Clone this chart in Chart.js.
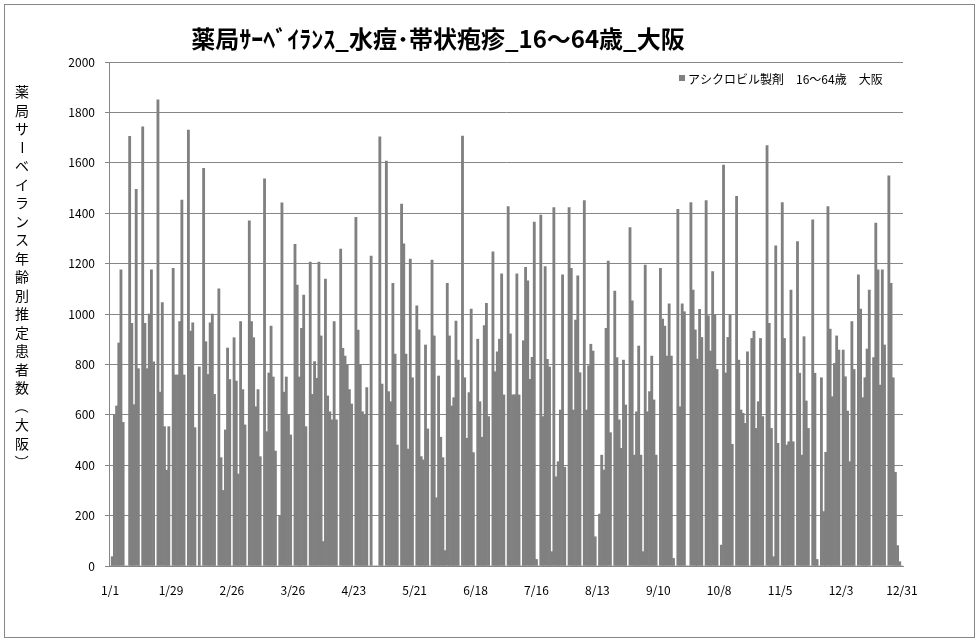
<!DOCTYPE html>
<html>
<head>
<meta charset="utf-8">
<script src="https://cdn.jsdelivr.net/npm/chart.js@4.4.1/dist/chart.umd.min.js"></script>
<style>
html,body{margin:0;padding:0;background:#fff;}
canvas{display:block;}
</style>
</head>
<body>
<canvas id="c" width="979" height="643"></canvas>
<script>
const titleText = '薬局ｻｰﾍﾞｲﾗﾝｽ_水痘･帯状疱疹_16～64歳_大阪';
const yTitleText = '薬局サーベイランス年齢別推定患者数（大阪）';
const seriesName = 'アシクロビル製剤　16～64歳　大阪';
const tickLabels = ['1/1','1/29','2/26','3/26','4/23','5/21','6/18','7/16','8/13','9/10','10/8','11/5','12/3','12/31'];
const yMin = 0, yMax = 2000, yStep = 200;

// daily categories for 2017 (1/1 .. 12/31)
const categories = [];
(function(){
  const d = new Date(2017, 0, 1);
  while (d.getFullYear() === 2017) {
    categories.push((d.getMonth()+1) + '/' + d.getDate());
    d.setDate(d.getDate()+1);
  }
})();

// values, one row per week (Sun..Sat)
const values = [
  0, 37, 600, 635, 885, 1175, 570,
  0, 0, 1705, 963, 640, 1495, 783,
  0, 1743, 963, 783, 1000, 1175, 810,
  0, 1850, 690, 1045, 553, 380, 553,
  0, 1181, 758, 758, 970, 1452, 758,
  0, 1730, 932, 965, 549, 0, 790,
  0, 1578, 890, 760, 965, 1000, 681,
  0, 1100, 430, 300, 540, 865, 740,
  0, 906, 734, 365, 970, 700, 560,
  0, 1370, 970, 906, 632, 700, 434,
  0, 1536, 533, 766, 952, 750, 456,
  0, 200, 1441, 690, 750, 600, 520,
  0, 1276, 1115, 750, 943, 1075, 553,
  0, 1206, 681, 811, 745, 1206, 913,
  97, 1139, 675, 612, 580, 970, 580,
  0, 1258, 864, 833, 800, 700, 643,
  0, 1384, 936, 800, 612, 600, 708,
  0, 1230, 0, 0, 0, 1703, 722,
  0, 1607, 692, 652, 1122, 841, 480,
  0, 1436, 1278, 841, 464, 1218, 747,
  0, 1032, 937, 434, 421, 877, 544,
  0, 1214, 913, 271, 754, 511, 430,
  61, 1122, 913, 635, 668, 972, 817,
  0, 1706, 747, 507, 688, 1020, 450,
  0, 900, 652, 511, 954, 1042, 593,
  0, 1247, 771, 850, 900, 1159, 679,
  0, 1426, 921, 679, 680, 1159, 679,
  0, 894, 1185, 1132, 741, 828, 1365,
  26, 0, 1393, 593, 1188, 820, 790,
  57, 1422, 354, 414, 619, 1155, 392,
  0, 1422, 1181, 619, 976, 1151, 767,
  0, 1450, 619, 795, 880, 853, 116,
  0, 206, 440, 381, 943, 1210, 529,
  0, 1091, 827, 580, 467, 817, 639,
  0, 1343, 1052, 440, 612, 873, 440,
  57, 1194, 612, 692, 833, 659, 440,
  0, 1181, 980, 952, 833, 1040, 833,
  30, 0, 1415, 632, 1040, 1009, 0,
  0, 1442, 1095, 937, 821, 1019, 907,
  0, 1450, 993, 853, 1168, 996, 780,
  0, 83, 1591, 766, 907, 996, 483,
  0, 1467, 817, 619, 606, 566, 850,
  0, 903, 932, 546, 652, 903, 593,
  0, 1668, 963, 546, 37, 1271, 487,
  0, 1442, 903, 480, 493, 1095, 493,
  0, 1287, 765, 440, 910, 655, 546,
  0, 1374, 765, 26, 0, 747, 216,
  451, 1426, 940, 672, 804, 913, 857,
  0, 857, 751, 615, 414, 970, 780,
  0, 1155, 1020, 668, 747, 861, 1095,
  0, 827, 1361, 1175, 718, 1175, 877,
  0, 1548, 1122, 747, 372, 81, 17,
  0
];

const JP = '"Noto Sans CJK JP", "Noto Sans", sans-serif';

const decor = {
  id: 'decor',
  beforeDraw(chart) {
    const ctx = chart.ctx;
    ctx.save();
    ctx.fillStyle = '#ffffff';
    ctx.fillRect(0, 0, chart.width, chart.height);
    ctx.restore();
  },
  afterDraw(chart) {
    const ctx = chart.ctx;
    ctx.save();
    ctx.strokeStyle = '#868686';
    ctx.lineWidth = 1;
    ctx.strokeRect(4.5, 4.5, 970, 633);

    ctx.fillStyle = '#000';
    ctx.font = 'bold 24px ' + JP;
    ctx.textAlign = 'center';
    ctx.textBaseline = 'middle';
    ctx.fillText(titleText, 438, 39);

    ctx.font = '14px ' + JP;
    Array.from(yTitleText).forEach((ch, i) => {
      const y = 92 + i * 18.5;
      if ('ー（）'.includes(ch)) {
        ctx.save();
        ctx.translate(22, y);
        ctx.rotate(Math.PI / 2);
        ctx.fillText(ch, 0, 0);
        ctx.restore();
      } else {
        ctx.fillText(ch, 22, y);
      }
    });

    ctx.fillStyle = '#808080';
    ctx.fillRect(679, 75, 6, 6);
    ctx.fillStyle = '#000';
    ctx.font = '12px ' + JP;
    ctx.textAlign = 'left';
    ctx.fillText(seriesName, 688, 79);
    ctx.restore();
  }
};

new Chart(document.getElementById('c'), {
  type: 'bar',
  data: {
    labels: categories,
    datasets: [{
      label: seriesName,
      data: values,
      backgroundColor: '#808080',
      borderWidth: 0,
      barPercentage: 1,
      categoryPercentage: 1
    }]
  },
  options: {
    responsive: false,
    animation: false,
    layout: { padding: { top: 62, right: 76, left: 0, bottom: 0 } },
    plugins: {
      legend: { display: false },
      title: { display: false },
      tooltip: { enabled: false }
    },
    scales: {
      x: {
        grid: { display: false, drawTicks: false },
        border: { display: true, color: '#868686', width: 1 },
        ticks: {
          autoSkip: false, maxRotation: 0, minRotation: 0, padding: 17,
          color: '#000', font: { size: 12, family: JP },
          callback: (v, i) => (i % 28 === 0 ? tickLabels[i / 28] : '')
        },
        afterFit: s => { s.height = 77; }
      },
      y: {
        min: yMin, max: yMax,
        ticks: {
          stepSize: yStep, padding: 10, color: '#000', font: { size: 12, family: JP },
          callback: v => String(v)
        },
        grid: { color: '#868686', tickLength: 4, lineWidth: 1 },
        border: { color: '#868686', width: 1 },
        afterFit: s => { s.width = 109; }
      }
    }
  },
  plugins: [decor]
});
</script>
</body>
</html>
